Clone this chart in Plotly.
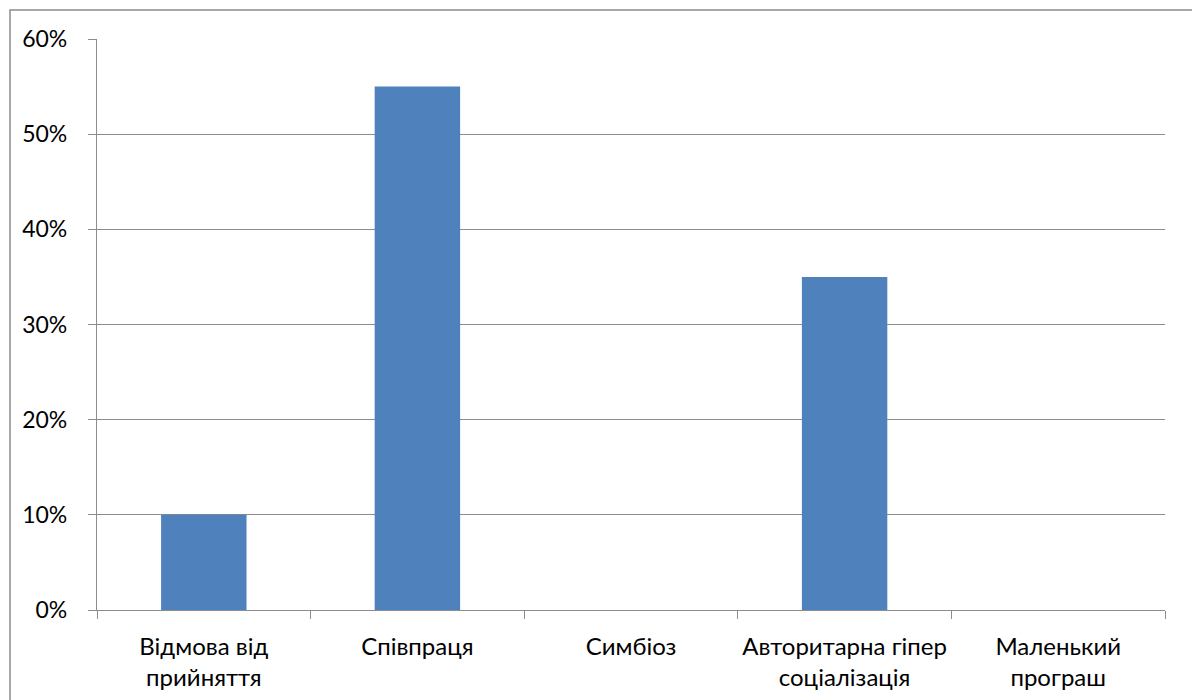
import plotly.graph_objects as go

categories = ["Відмова від<br>прийняття", "Співпраця", "Симбіоз",
              "Авторитарна гіпер<br>соціалізація", "Маленький<br>програш"]
values = [0.10, 0.55, 0.0, 0.35, 0.0]
y_ticks = [0, 0.1, 0.2, 0.3, 0.4, 0.5, 0.6]

W, H = 1200, 700
OFF = 8  # page body margin
PL, PR, PT, PB = 97, 1165, 39, 610  # plot area in page pixels
L, T = PL - OFF, PT - OFF
pw, ph = PR - PL, PB - PT
R = W - L - pw
B = H - T - ph

fig = go.Figure(go.Bar(x=categories, y=values, marker_color="#4f81bd",
                       marker_line_width=0, width=0.4))

gray = "#8c8c8c"
fig.update_layout(
    width=W, height=H,
    margin=dict(l=L, r=R, t=T, b=B, autoexpand=False),
    paper_bgcolor="white", plot_bgcolor="white",
    font=dict(family="Lato, Open Sans, sans-serif", size=22, color="black"),
    showlegend=False,
)
fig.update_yaxes(range=[0, 0.6], tickvals=y_ticks, tickformat=".0%",
                 showgrid=True, gridcolor=gray, gridwidth=1.3,
                 showline=True, linecolor=gray, linewidth=1.3,
                 ticks="outside", ticklen=8, tickcolor=gray, tickwidth=1.3,
                 zeroline=False, ticklabelstandoff=16, automargin=False,
                 tickfont=dict(size=23))
fig.update_xaxes(showline=True, linecolor=gray, linewidth=1.3,
                 ticks="outside", ticklen=8, tickcolor=gray, tickwidth=1.3,
                 tickson="boundaries", showgrid=False, ticklabelstandoff=15,
                 tickangle=0, automargin=False,
                 tickfont=dict(size=24))

fig.add_shape(type="rect", xref="paper", yref="paper",
              x0=(10 - PL) / pw, x1=(1193 - PL) / pw,
              y0=-(H + 20 - PB) / ph, y1=1 + (PT - 10) / ph,
              line=dict(color=gray, width=1.5), layer="below")

fig.write_html("out.html")
